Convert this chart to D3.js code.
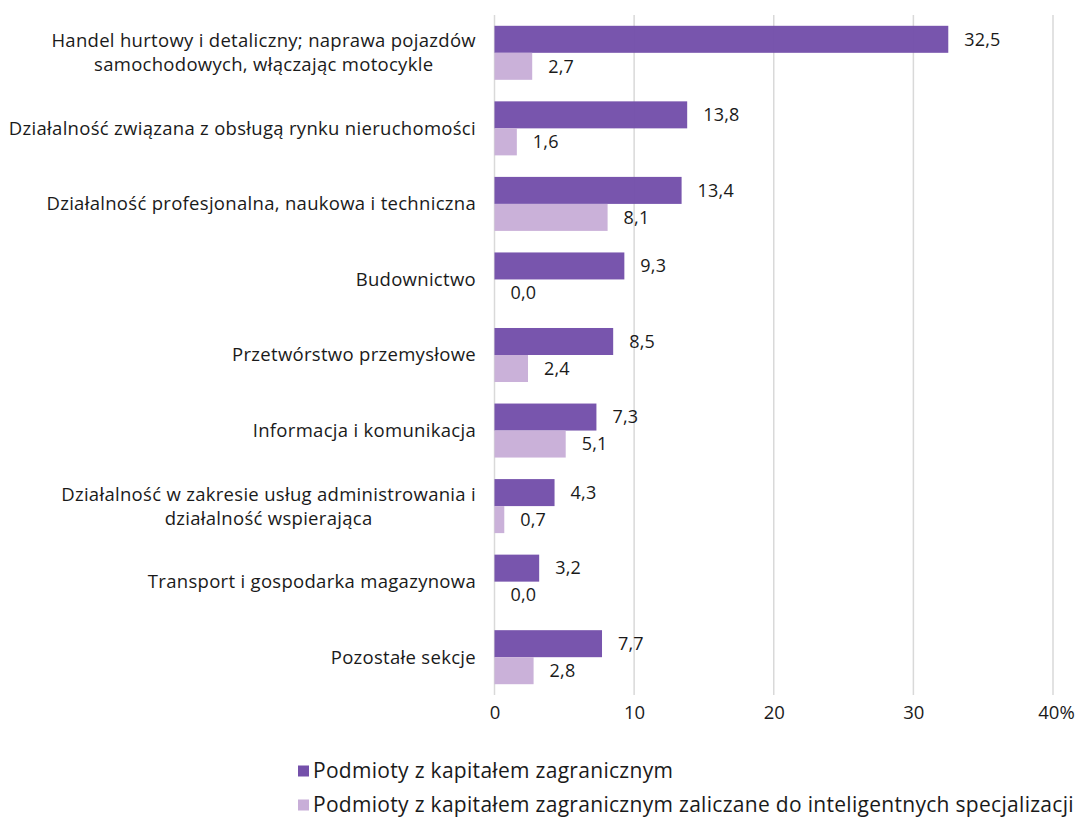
<!DOCTYPE html>
<html lang="pl">
  <head>
    <meta charset="UTF-8" />
    <title>Podmioty z kapitałem zagranicznym</title>
    <style>
      body { margin: 0; background: #fff; }
      svg text { font-family: 'Open Sans', 'Noto Sans', sans-serif; fill: #1a1a1a; }
    </style>
  </head>
  <script src="https://d3js.org/d3.v7.min.js"></script>
  <body>
    <div class="chart"></div>
  </body>
  <script type="text/javascript">
    // dane
    var categories = [
      ['Handel hurtowy i detaliczny; naprawa pojazdów', 'samochodowych, włączając motocykle'],
      ['Działalność związana z obsługą rynku nieruchomości'],
      ['Działalność profesjonalna, naukowa i techniczna'],
      ['Budownictwo'],
      ['Przetwórstwo przemysłowe'],
      ['Informacja i komunikacja'],
      ['Działalność w zakresie usług administrowania i', 'działalność wspierająca'],
      ['Transport i gospodarka magazynowa'],
      ['Pozostałe sekcje']
    ]
    var seriesNames = [
      'Podmioty z kapitałem zagranicznym',
      'Podmioty z kapitałem zagranicznym zaliczane do inteligentnych specjalizacji'
    ]
    var valuesAll = [32.5, 13.8, 13.4, 9.3, 8.5, 7.3, 4.3, 3.2, 7.7]
    var valuesSmart = [2.7, 1.6, 8.1, 0.0, 2.4, 5.1, 0.7, 0.0, 2.8]
    var tickValues = [0, 10, 20, 30, 40]
    var tickLabels = ['0', '10', '20', '30', '40%']

    var colors = ['#7450AA', '#C8AED8']

    var width = 1083
    var height = 820
    var plotLeft = 494.5
    var plotRight = 1053
    var plotTop = 15
    var plotBottom = 695
    var labelRight = 476

    var svg = d3.select('.chart').append('svg').attr('width', width).attr('height', height)

    var x = d3.scaleLinear().domain([0, 40]).range([plotLeft, plotRight])
    var y = d3
      .scaleBand()
      .domain(d3.range(categories.length))
      .range([plotTop, plotBottom])
      .paddingInner(0.285)
      .paddingOuter(0.143)
    var sub = d3.scaleBand().domain([0, 1]).range([0, y.bandwidth()])

    // siatka
    svg
      .append('g')
      .selectAll('line')
      .data(tickValues)
      .enter()
      .append('line')
      .attr('x1', (d) => x(d))
      .attr('x2', (d) => x(d))
      .attr('y1', plotTop)
      .attr('y2', plotBottom)
      .attr('stroke', '#d9d9d9')
      .attr('stroke-width', 1.5)

    // oś X
    var xAxis = d3
      .axisBottom(x)
      .tickValues(tickValues)
      .tickSize(0)
      .tickPadding(11)
      .tickFormat((d, i) => tickLabels[i])
    var gx = svg.append('g').attr('transform', 'translate(0,' + plotBottom + ')').call(xAxis)
    gx.select('.domain').remove()
    gx.selectAll('text').style('font-size', '18.5px').attr('fill', '#1a1a1a')
    gx.selectAll('text').filter((d) => d === 40).attr('dx', '3')

    var series = [valuesAll, valuesSmart]
    series.forEach(function (vals, s) {
      var g = svg.append('g')
      g.selectAll('rect')
        .data(vals)
        .enter()
        .append('rect')
        .attr('x', x(0))
        .attr('y', (d, i) => y(i) + sub(s))
        .attr('width', (d) => x(d) - x(0))
        .attr('height', sub.bandwidth())
        .attr('fill', colors[s])
        .attr('opacity', 0.97)
      g.selectAll('text')
        .data(vals)
        .enter()
        .append('text')
        .attr('x', (d) => x(d) + 16)
        .attr('y', (d, i) => y(i) + sub(s) + sub.bandwidth() / 2)
        .attr('dy', '0.35em')
        .style('font-size', '18px')
        .style('letter-spacing', '0.2px')
        .text((d) => d3.format('.1f')(d).replace('.', ','))
    })

    // etykiety kategorii (wiersze wyśrodkowane w bloku wyrównanym do prawej)
    var cat = svg
      .append('g')
      .selectAll('text')
      .data(categories)
      .enter()
      .append('text')
      .attr('text-anchor', 'middle')
      .attr('y', (d, i) => y(i) + y.bandwidth() / 2)
      .style('font-size', '18.5px')
      .style('letter-spacing', '0.3px')
    cat
      .selectAll('tspan')
      .data((d) => d.map((t, j) => ({ t: t, j: j, n: d.length })))
      .enter()
      .append('tspan')
      .attr('dy', (d) => (d.j === 0 ? 0.35 - (d.n - 1) * 0.65 + 'em' : '1.3em'))
      .text((d) => d.t)
    cat.each(function () {
      var spans = d3.select(this).selectAll('tspan')
      var maxW = d3.max(spans.nodes(), (n) => n.getComputedTextLength())
      spans.attr('x', labelRight - maxW / 2)
    })

    // legenda
    var legend = svg
      .append('g')
      .selectAll('g')
      .data(seriesNames)
      .enter()
      .append('g')
      .attr('transform', (d, i) => 'translate(298,' + (771 + i * 34) + ')')
    legend
      .append('rect')
      .attr('x', 0)
      .attr('y', -5.5)
      .attr('width', 11)
      .attr('height', 11)
      .attr('fill', (d, i) => colors[i])
    legend
      .append('text')
      .attr('x', 15)
      .attr('dy', '0.35em')
      .style('font-size', '21px')
      .style('letter-spacing', '0.3px')
      .text((d) => d)
  </script>
</html>
